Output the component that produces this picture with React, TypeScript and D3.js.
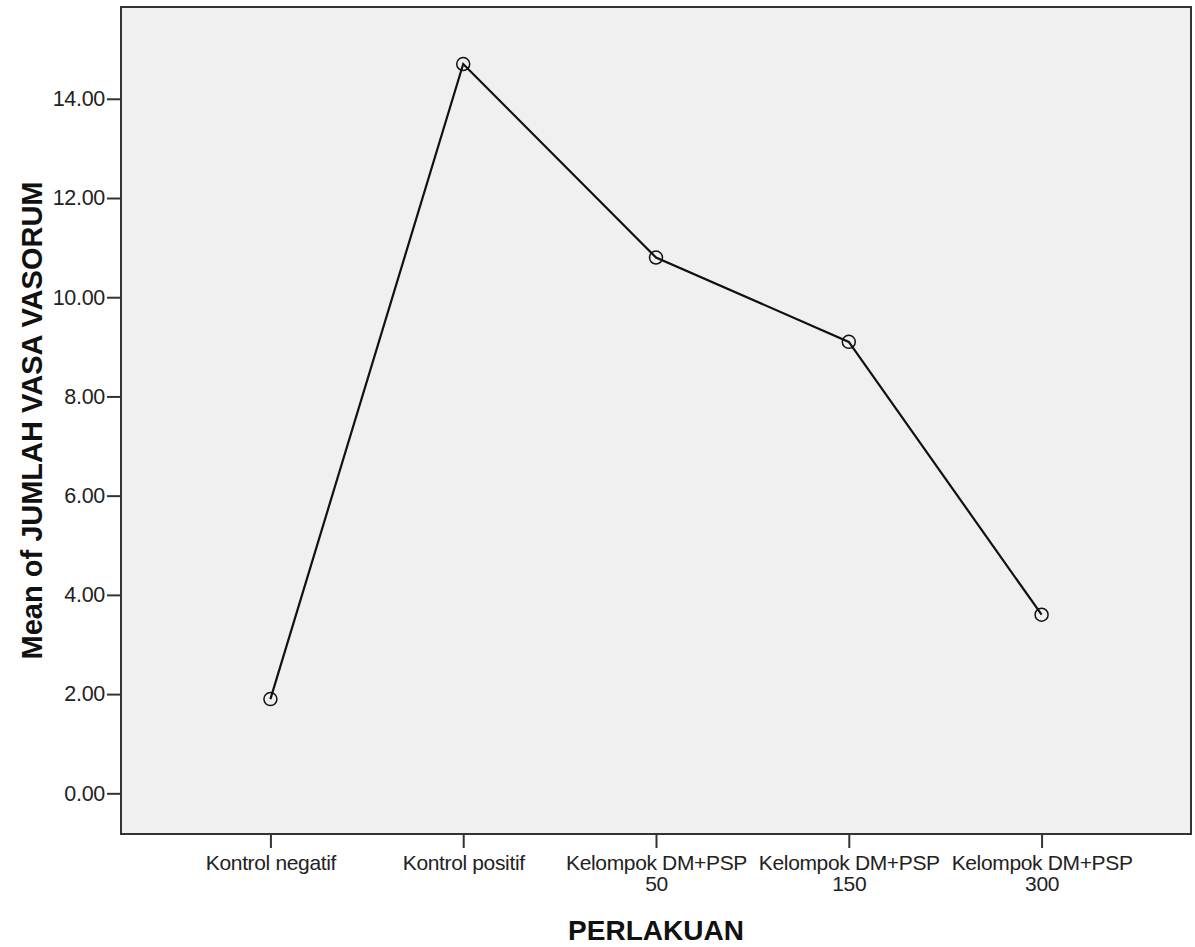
import React, { useEffect, useRef } from 'react';
import * as d3 from 'd3';

const width = 1195;
const height = 947;

const plotMargins = {
  top: 7,
  bottom: 113,
  left: 121,
  right: 4,
};

// PERLAKUAN groups (second line of label after '|')
const categories = [
  'Kontrol negatif',
  'Kontrol positif',
  'Kelompok DM+PSP|50',
  'Kelompok DM+PSP|150',
  'Kelompok DM+PSP|300',
];
const meanValues = [1.9, 14.7, 10.8, 9.1, 3.6];
const yTicks = [0, 2, 4, 6, 8, 10, 12, 14];

const font = 'Arial, "Liberation Sans", sans-serif';

type Point = { cat: string; value: number };

const App = (): JSX.Element => {
  const container = useRef<SVGSVGElement>(null);

  useEffect(() => {
    const svg = d3.select(container.current);
    svg.selectAll('*').remove();

    const data: Point[] = categories.map((c, i) => ({ cat: c, value: meanValues[i] }));

    const x0 = plotMargins.left;
    const x1 = width - plotMargins.right;
    const y0 = plotMargins.top;
    const y1 = height - plotMargins.bottom;

    const xScale = d3.scalePoint<string>().domain(categories).range([x0, x1]).padding(0.775);
    const yScale = d3.scaleLinear().domain([-0.82, 15.85]).range([y1, y0]);

    // plot background
    svg
      .append('rect')
      .attr('x', x0)
      .attr('y', y0)
      .attr('width', x1 - x0)
      .attr('height', y1 - y0)
      .attr('fill', '#f0f0f0');

    // y axis
    const yAxis = svg
      .append('g')
      .attr('transform', 'translate(' + x0 + ',0)')
      .call(
        d3
          .axisLeft(yScale)
          .tickValues(yTicks)
          .tickSize(14)
          .tickPadding(2)
          .tickFormat((d) => d3.format('.2f')(d as number))
      );
    yAxis.select('.domain').remove();
    yAxis.selectAll('line').attr('stroke', '#333').attr('stroke-width', 2);
    yAxis
      .selectAll('text')
      .attr('font-family', font)
      .attr('font-size', 21.5)
      .attr('letter-spacing', -0.3)
      .attr('fill', '#222');

    // x axis
    const xAxis = svg
      .append('g')
      .attr('transform', 'translate(0,' + y1 + ')')
      .call(d3.axisBottom(xScale).tickSize(14).tickFormat(() => ''));
    xAxis.select('.domain').remove();
    xAxis.selectAll('line').attr('stroke', '#333').attr('stroke-width', 2);
    xAxis.selectAll('.tick text').remove();
    xAxis
      .selectAll('.tick')
      .append('text')
      .attr('font-family', font)
      .attr('font-size', 21)
      .attr('letter-spacing', -0.35)
      .attr('fill', '#222')
      .attr('text-anchor', 'middle')
      .each(function (d) {
        const parts = (d as string).split('|');
        const t = d3.select(this);
        parts.forEach((p, i) => {
          t.append('tspan')
            .attr('x', 0)
            .attr('y', 36 + i * 21)
            .text(p);
        });
      });

    // frame
    svg
      .append('rect')
      .attr('x', x0)
      .attr('y', y0)
      .attr('width', x1 - x0)
      .attr('height', y1 - y0)
      .attr('fill', 'none')
      .attr('stroke', '#333')
      .attr('stroke-width', 2);

    // line
    const lineGenerator = d3
      .line<Point>()
      .x((d) => xScale(d.cat) || 0)
      .y((d) => yScale(d.value));

    svg
      .append('path')
      .attr('d', lineGenerator(data) || '')
      .attr('stroke', '#111')
      .attr('stroke-width', 2.2)
      .attr('fill', 'none');

    svg
      .selectAll('circle.pt')
      .data(data)
      .enter()
      .append('circle')
      .attr('class', 'pt')
      .attr('cx', (d) => xScale(d.cat) || 0)
      .attr('cy', (d) => yScale(d.value))
      .attr('r', 6.5)
      .attr('fill', 'none')
      .attr('stroke', '#111')
      .attr('stroke-width', 1.5);

    // axis titles
    svg
      .append('text')
      .attr('x', (x0 + x1) / 2)
      .attr('y', 940)
      .attr('text-anchor', 'middle')
      .attr('font-family', font)
      .attr('font-weight', 'bold')
      .attr('font-size', 28)
      .attr('fill', '#111')
      .text('PERLAKUAN');

    svg
      .append('text')
      .attr('transform', 'translate(42,' + (y0 + y1) / 2 + ') rotate(-90)')
      .attr('text-anchor', 'middle')
      .attr('font-family', font)
      .attr('font-weight', 'bold')
      .attr('font-size', 29)
      .attr('fill', '#111')
      .text('Mean of JUMLAH VASA VASORUM');
  }, []);

  return (
    <svg
      ref={container}
      width={width}
      height={height}
      style={{ position: 'absolute', left: 0, top: 0, background: '#fff' }}
    />
  );
};

export default App;
